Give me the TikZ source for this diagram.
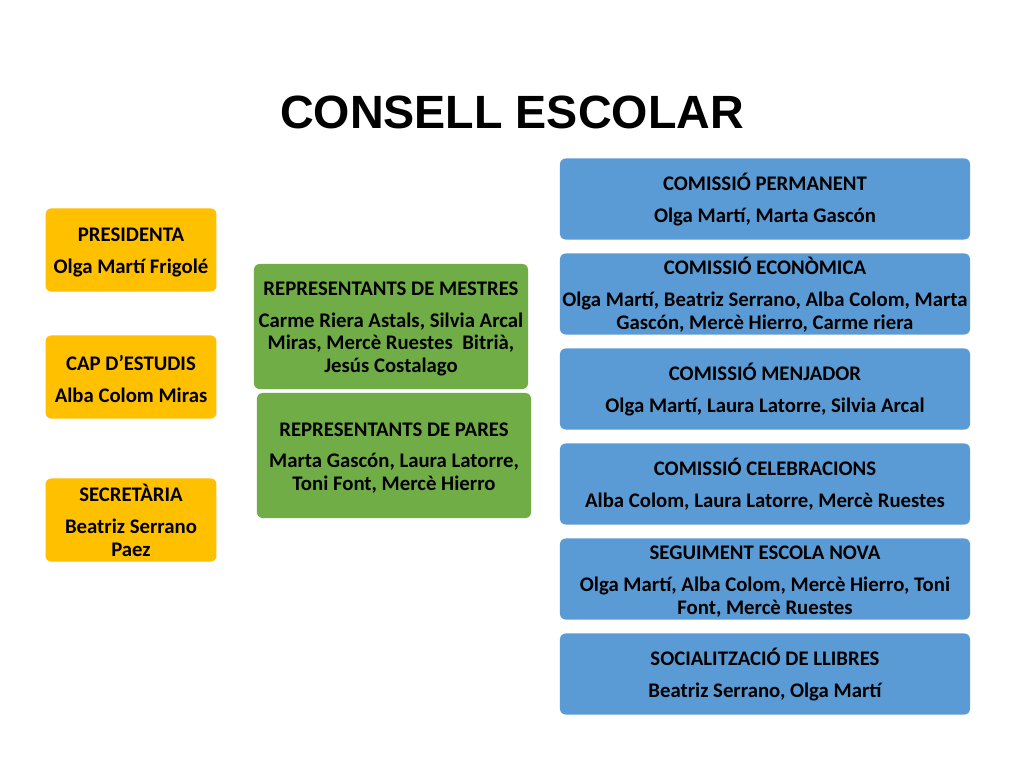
\documentclass[tikz,border=0pt]{standalone}
\usepackage{fontspec}
\setmainfont{Carlito}
\newfontfamily\titlefont{Liberation Sans}
\usetikzlibrary{positioning}
\definecolor{carrecfill}{HTML}{FFC000}
\definecolor{represfill}{HTML}{70AD47}
\definecolor{comissiofill}{HTML}{5B9BD5}
\newcommand{\capstrut}{\rule{0pt}{13pt}}
\tikzset{
card/.style={
  rectangle,
  rounded corners=4pt,
  align=center,
  inner sep=1pt,
  font=\bfseries\fontsize{14.6}{16}\selectfont
},
carrec/.style={card,fill=carrecfill,minimum width=120.2pt,minimum height=58.4pt},
repres/.style={card,fill=represfill,minimum width=192.7pt,minimum height=87.9pt},
comissio/.style={card,fill=comissiofill,minimum width=288.3pt,minimum height=57pt}
}

\begin{document}
\begin{tikzpicture}[x=0.703125pt,y=-0.703125pt]
\path[use as bounding box,fill=white] (0,0) rectangle (1024,768);
\node (titol) at (512,112) {\titlefont\bfseries\fontsize{32.8}{36}\selectfont CONSELL ESCOLAR};
% the left column
\node[carrec] (presidenta) at (131,250) {\capstrut PRESIDENTA\\[6.3pt]Olga Martí Frigolé};
\node[carrec] (capestudis) at (131,377) {\capstrut CAP D’ESTUDIS\\[6.3pt]Alba Colom Miras};
\node[carrec] (secretaria) at (131,520) {\capstrut SECRETÀRIA\\[6.3pt]Beatriz Serrano\\Paez};
% the representatives
\node[repres] (mestres) at (391,326.5) {\capstrut REPRESENTANTS DE MESTRES\\[6.3pt]Carme Riera Astals, Silvia Arcal\\Miras, Mercè Ruestes\ \ Bitrià,\\Jesús Costalago};
\node[repres] (pares) at (394,455.5) {\capstrut REPRESENTANTS DE PARES\\[6.3pt]Marta Gascón, Laura Latorre,\\Toni Font, Mercè Hierro};
% the commissions
\foreach \name/\head/\members [count=\i from 0] in {
  permanent/{COMISSIÓ PERMANENT}/{Olga Martí, Marta Gascón},
  economica/{COMISSIÓ ECONÒMICA}/{Olga Martí, Beatriz Serrano, Alba Colom, Marta\\Gascón, Mercè Hierro, Carme riera},
  menjador/{COMISSIÓ MENJADOR}/{Olga Martí, Laura Latorre, Silvia Arcal},
  celebracions/{COMISSIÓ CELEBRACIONS}/{Alba Colom, Laura Latorre, Mercè Ruestes},
  escolanova/{SEGUIMENT ESCOLA NOVA}/{Olga Martí, Alba Colom, Mercè Hierro, Toni\\Font, Mercè Ruestes},
  llibres/{SOCIALITZACIÓ DE LLIBRES}/{Beatriz Serrano, Olga Martí}%
}
{
  \node[comissio] (\name) at (765,{199+95*\i}) {\capstrut\head\\[6.3pt]\members};
}
\end{tikzpicture}
\end{document}
